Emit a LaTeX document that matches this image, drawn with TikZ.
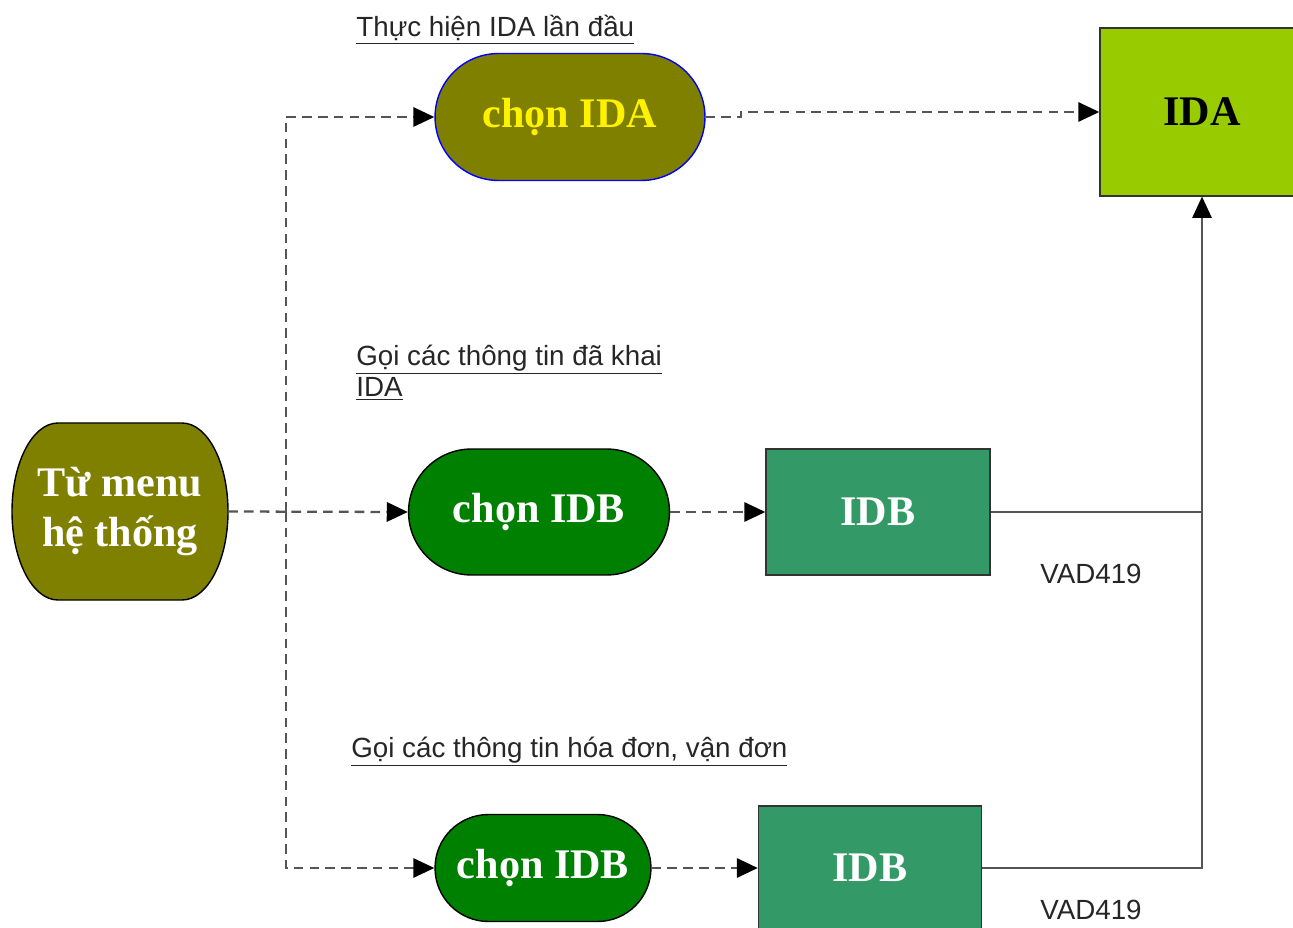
\documentclass[tikz,border=0pt]{standalone}
\usepackage{fontspec}
\setmainfont{Liberation Serif}
\newfontfamily\labelfont{Liberation Sans}
\usetikzlibrary{arrows.meta,shapes.misc}

\definecolor{olivebox}{RGB}{128,128,0}
\definecolor{greenbox}{RGB}{0,128,0}
\definecolor{seabox}{RGB}{51,153,102}
\definecolor{limebox}{RGB}{153,204,0}
\definecolor{lineg}{RGB}{85,85,85}

\tikzset{
  pill/.style={rounded rectangle, draw=black, line width=0.8pt, inner sep=2pt,
    font=\fontsize{24}{28}\selectfont\bfseries, text=white},
  box/.style={rectangle, draw=black!80, line width=0.8pt,
    font=\fontsize{24}{28}\selectfont\bfseries, text=white},
  note/.style={font=\labelfont\fontsize{15.8}{18.2}\selectfont, text=black!85, inner sep=0pt},
  flow/.style={draw=lineg, line width=1.3pt, dash pattern=on 5.5pt off 3.5pt,
    -{Triangle[length=12pt,width=11pt,color=black]}},
  link/.style={draw=lineg, line width=0.8pt}
}

\begin{document}
\begin{tikzpicture}[x=0.02cm,y=-0.02cm]
\clip (0,0) rectangle (1293,928);

%% outline of the start node (corners are elliptic)
\draw[fill=olivebox, line width=0.8pt] (58,423) -- (182,423)
  arc[start angle=-90, end angle=90, x radius=46, y radius=88.5] -- (58,600)
  arc[start angle=90, end angle=270, x radius=46, y radius=88.5] -- cycle;

%% nodes
\node[pill, draw=none, rectangle, align=center,
  minimum width=4.3cm, minimum height=3.54cm] (menu) at (120,511.5) {Từ menu\\hệ thống};
\node[pill, fill=olivebox, draw=blue, text=yellow,
  minimum width=5.54cm, minimum height=2.54cm] (chonIDA) at (570,117) {chọn IDA};
\node[pill, fill=greenbox, minimum width=5.36cm, minimum height=2.52cm] (chonIDBa) at (539,512) {chọn IDB};
\node[pill, fill=greenbox, minimum width=4.46cm, minimum height=2.14cm] (chonIDBb) at (543,868) {chọn IDB};
\node[box, fill=limebox, text=black, minimum width=4.08cm, minimum height=3.36cm] (IDA) at (1202,112) {IDA};
\node[box, fill=seabox, minimum width=4.48cm, minimum height=2.52cm] (IDBa) at (878,512) {IDB};
\node[box, fill=seabox, minimum width=4.46cm, minimum height=2.48cm] (IDBb) at (870,868) {IDB};

%% labels
\node[note, anchor=base west] (lblIDA) at (356,37) {\underline{Thực hiện IDA lần đầu}};
\node[note, anchor=base west, align=left] (lblIDBa) at (356,397) {\underline{Gọi các thông tin đã khai}\\\underline{IDA}};
\node[note, anchor=base west] (lblIDBb) at (351,757) {\underline{Gọi các thông tin hóa đơn, vận đơn}};
\node[note] (vadA) at (1091,574) {VAD419};
\node[note] (vadB) at (1091,910) {VAD419};

%% dashed flow
\coordinate (fork) at (286,512);
\draw[flow] (menu.east) -- (chonIDBa.west);
\draw[flow] (fork) |- (chonIDA.west);
\draw[flow] (fork) |- (chonIDBb.west);
\draw[flow] (chonIDA.east) -- ++(35,0) |- (IDA.west);
\draw[flow] (chonIDBa.east) -- (IDBa.west);
\draw[flow] (chonIDBb.east) -- (IDBb.west);

%% solid links into IDA
\draw[link] (IDBa.east) -- (IDA.south |- IDBa.east);
\draw[link, -{Triangle[length=12pt,width=11pt,color=black]}] (IDBb.east) -| (IDA.south);
\end{tikzpicture}
\end{document}
